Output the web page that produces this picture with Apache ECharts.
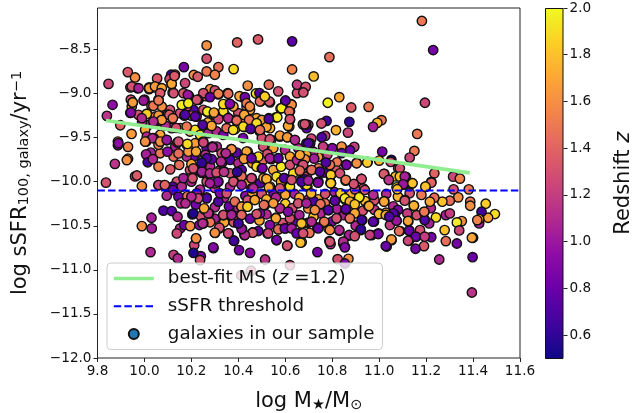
<!DOCTYPE html>
<html><head><meta charset="utf-8">
<style>html,body{margin:0;padding:0;background:#fff}#c{width:632px;height:413px}</style>
<script src="https://cdn.jsdelivr.net/npm/echarts@6/dist/echarts.min.js"></script>
</head><body><div id="c"></div>
<script>
const xTicks=[9.8,10.0,10.2,10.4,10.6,10.8,11.0,11.2,11.4,11.6];
const yTicks=[-12,-11.5,-11,-10.5,-10,-9.5,-9,-8.5];
const zTicks=[0.6,0.8,1.0,1.2,1.4,1.6,1.8,2.0];
const plasma=['#0d0887','#41049d','#6a00a8','#8f0da4','#b12a90','#cc4778','#e16462','#f2844b','#fca636','#fcce25','#f0f921'];
const msLine=[[9.836,-9.306],[11.386,-9.90]];
const threshold=[[9.8,-10.1],[11.6,-10.1]];
// [log stellar mass, log sSFR, redshift]
const galaxiesFill=[
[9.942,-9.07,1.3],[9.946,-9.147,1.6],[9.975,-9.242,1.3],[10.017,-9.356,1.25],[10.046,-9.261,1.5],[10.067,-9.356,1.7],[10.088,-9.242,1.3],[10.116,-9.393,1.25],[10.152,-9.393,1.7],[10.194,-9.431,1.7],[10.216,-9.412,1.9],[10.237,-9.469,1.9],[10.272,-9.45,1.05],[10.308,-9.431,1.1],[10.336,-9.469,.85],[10.35,-9.393,1.45],[10.4,-9.356,1.7],[10.443,-9.375,1.3],[10.492,-9.431,1.7],[10.535,-9.393,1.75],[10.478,-9.28,1.7],[10.435,-9.147,1.5],[10.45,-9.185,1.7],[10.4,-9.223,1.3],[10.379,-9.147,1.7],[10.343,-9.242,1.9],[10.294,-9.242,1.7],[10.251,-9.185,1.3],[10.209,-9.185,.7],[10.152,-9.223,1.3],[10.109,-9.185,1.3],[10.074,-9.147,1.6],[10.003,-9.412,1.7],[10.01,-9.488,1.1],[10.067,-9.469,1.7],[10.216,-9.564,1.65],[10.223,-9.678,1.8],[10.209,-9.715,.8],[10.18,-9.715,1.1],[10.124,-9.715,1.45],[10.131,-9.602,1.05],[10.067,-9.678,1.5],[10.308,-9.602,1.1],[10.265,-9.621,.75],[10.329,-9.678,1.3],[10.365,-9.753,.7],[10.4,-9.791,1.1],[10.506,-9.602,1.3],[10.549,-9.621,1.7],[10.599,-9.64,1.1],[10.62,-9.715,1.7],[10.677,-9.867,1.1],[10.634,-9.905,1.9],[10.549,-9.867,1.7],[10.506,-9.753,1.45],[10.485,-9.715,1.9],[10.322,-9.867,1.3],[10.28,-9.829,1.1],[10.223,-9.867,.7],[10.194,-9.867,1.3],[10.414,-9.867,.75],[10.435,-10.018,1.7],[10.492,-10.018,.7],[10.563,-9.943,1.9],[10.606,-10.037,1.1],[10.691,-9.943,1.3],[10.365,-10.056,1.1],[10.265,-9.999,1.3],[10.138,-9.999,1.3],[10.159,-10.056,1.1],
[10.3,-10.07,1.3],[10.34,-10.18,1.1],[10.43,-10.16,.9],[10.46,-10.13,1.7],[10.5,-10.14,1.3],[10.55,-10.14,.9],[10.6,-10.15,1.7],[10.64,-10.14,1.05],[10.66,-10.18,1.7],[10.56,-10.18,1.1],[10.44,-10.21,1.3],[10.4,-10.3,1.1],[10.36,-10.28,.8],[10.3,-10.29,1.1],[10.24,-10.39,1.3],[10.3,-10.42,1.05],[10.34,-10.46,1.7],[10.38,-10.46,1.3],[10.45,-10.42,.8],[10.49,-10.44,1.7],[10.52,-10.37,1.1],[10.6,-10.25,1.85],[10.63,-10.3,1.3],[10.52,-10.2,1.75],[10.59,-10.47,1.3],[10.64,-10.45,.8],[10.7,-10.2,1.1],[10.74,-10.2,1.7],[10.77,-10.14,1.3],[10.81,-10.12,1.05],[10.88,-10.14,1.7],[10.98,-10.21,1.3],[11.03,-10.14,1.1],[11.08,-10.17,1.75],[11.13,-10.13,1.3],[11.18,-10.15,1.5],[11.06,-10.28,1.1],[10.98,-10.32,1.2],[10.93,-10.33,1.3],[10.82,-10.31,1.05],[10.75,-10.36,1.1],[10.72,-10.4,1.8],[10.85,-10.38,1.05],[10.94,-10.22,1.8],[11.08,-10.32,.85],[11.12,-10.36,1.2],[11.16,-10.38,1.3],[11.22,-10.3,1.1],[10.8,-10.45,.85],[10.9,-10.5,1.1],[10.72,-10.22,.7],[10.28,-10.46,1.5],[10.82,-9.78,1.5],[10.74,-9.72,1.65],[10.72,-9.66,1.1],[10.78,-9.69,1.2],[10.8,-9.62,.9]
];
const galaxies=[
[10.265,-8.454,1.6],[10.395,-8.42,1.4],[10.484,-8.386,1.35],[10.629,-8.408,.75],[10.265,-8.605,1.3],[10.168,-8.70,.85],[10.13,-8.785,1.6],[10.114,-8.787,.7],[9.929,-8.757,1.35],[9.96,-8.818,1.6],[9.847,-8.89,1.25],[10.265,-8.749,1.5],[10.315,-8.70,1.45],[10.38,-8.723,1.9],[10.629,-8.727,1.55],[10.21,-8.79,1.6],[10.227,-8.81,1.35],[10.3,-8.787,1.55],[10.054,-8.829,1.35],[10.107,-8.836,1.25],[10.116,-8.893,1.7],[10.173,-8.882,1.25],[9.864,-9.128,.95],[9.84,-9.253,1.15],[9.897,-9.36,1.4],[9.945,-9.458,1.65],[9.887,-9.545,1.6],[9.887,-9.587,.95],[9.93,-9.605,1.55],[9.93,-9.74,1.55],[9.925,-9.755,1.6],[9.874,-9.798,1.15],[9.836,-10.01,1.3],[9.96,-9.94,1.3],[9.968,-9.93,1.35],[9.989,-10.049,1.6],
[10.02,-8.93,1.65],[10.02,-8.95,1.7],[9.97,-8.94,1.1],[9.94,-8.93,1.3],[10.07,-8.94,1.45],[10.04,-8.93,1.7],[10.06,-9.07,1.45],[10.0,-9.07,1.05],[9.95,-9.1,1.6],[10.03,-9.14,1.55],[9.94,-9.22,.95],[10.01,-9.23,1.8],[10.06,-9.25,1.65],[10.07,-9.31,1.7],[9.99,-9.32,1.15],[10.04,-9.34,1.1],[10.12,-8.99,1.35],[10.19,-9.03,.9],[10.18,-9.15,1.25],[10.17,-9.25,.75],[10.12,-9.28,1.55],[10.1,-9.24,1.3],[10.23,-9.07,1.4],[10.26,-9.03,1.3],[10.28,-8.95,1.6],[10.315,-9.01,1.45],[10.3,-8.965,1.3],[10.355,-8.995,1.5],[10.42,-9.045,.7],[10.405,-9.03,1.7],[10.475,-9.0,1.9],[10.49,-8.995,.7],[10.51,-9.03,1.75],[10.53,-8.9,1.45],[10.57,-8.975,1.3],[10.44,-8.91,1.6],[10.495,-9.09,1.45],[10.535,-9.1,1.35],[10.6,-9.09,.8],[10.625,-9.12,1.6],[10.65,-8.995,1.3],[10.65,-8.9,1.2],[10.58,-9.17,1.9],[10.56,-9.27,1.9],[10.53,-9.28,.7],[10.5,-9.3,1.65],[10.62,-9.2,1.4],[10.617,-9.375,1.7],[10.62,-9.3,1.3],[10.675,-9.35,1.3],[10.698,-9.355,1.25],[10.166,-9.13,1.9],[10.27,-9.215,1.95],[10.336,-9.2,1.9],[10.36,-9.12,.8],[10.39,-9.3,1.4],[10.336,-9.12,1.9],[10.358,-9.28,1.05],[10.22,-9.26,1.1],[10.2,-9.25,1.3],[10.3,-9.24,1.65],[10.43,-9.29,1.45],[10.426,-9.38,1.9],[10.455,-9.4,.65],[10.478,-9.345,1.85],[10.52,-9.38,1.7],[10.386,-9.405,1.8],[10.25,-9.36,.7],[10.27,-9.33,1.7],[10.18,-9.375,1.5],[10.135,-9.39,1.3],[10.09,-9.365,1.1],[10.04,-9.505,1.1],[10.007,-9.545,1.6],[10.06,-9.58,1.5],[10.095,-9.53,1.05],[10.14,-9.556,1.2],[10.18,-9.58,1.9],[10.25,-9.545,1.1],[10.29,-9.6,1.05],[10.37,-9.63,1.25],[10.44,-9.66,1.7],[10.577,-9.49,1.6],[10.61,-9.495,1.65],[10.5,-9.505,1.3],[10.54,-9.525,1.3],[10.42,-9.505,.85],[10.69,-9.565,.7],[10.655,-9.62,1.1],[10.098,-9.66,.95],[10.027,-9.67,1.05],[10.007,-9.69,1.05],[10.014,-9.78,.65],[10.06,-9.83,1.55],[10.036,-9.745,1.1],[10.145,-9.68,1.45],[10.11,-9.86,1.35],[10.148,-9.81,1.45],[10.2,-9.8,1.7],[10.187,-9.66,1.65],[10.26,-9.696,1.15],[10.244,-9.8,.6],[10.287,-9.745,.75],[10.33,-9.79,1.05],[10.346,-9.677,1.05],[10.393,-9.67,.75],[10.426,-9.74,1.65],[10.45,-9.715,.7],[10.46,-9.79,1.6],[10.54,-9.745,.95],[10.57,-9.735,.75],[10.524,-9.685,1.3],[10.582,-9.83,1.95],[10.478,-9.83,1.9],[10.5,-9.85,.75],[10.67,-9.81,1.4],[10.62,-9.81,1.3],[10.69,-9.696,1.7],[10.65,-9.755,1.1],[10.195,-9.96,1.7],[10.244,-9.9,1.05],[10.275,-9.916,1.05],[10.305,-9.905,1.25],[10.34,-9.886,1.1],[10.397,-9.9,.6],[10.365,-9.905,1.3],[10.457,-9.96,1.3],[10.507,-9.96,1.7],[10.52,-9.97,1.75],[10.595,-9.96,.6],[10.582,-10.0,1.7],[10.684,-10.04,1.85],[10.315,-10.0,.95],[10.166,-9.96,1.05],[10.2,-10.0,1.1],[10.12,-10.055,.7],[10.06,-10.04,1.2],[10.084,-10.04,1.4],[10.237,-10.09,1.1],[10.457,-10.075,1.1],[10.535,-10.055,1.8],[10.67,-9.98,.7],[10.62,-10.055,1.9],[10.379,-10.0,1.3],[10.3,-10.02,1.05],[10.414,-9.94,1.45],
[11.182,-8.177,1.5],[11.23,-8.507,.85],[10.788,-8.587,1.45],[10.721,-8.806,1.78],[10.687,-8.924,1.3],[10.677,-8.988,1.3],[10.781,-9.105,1.97],[10.83,-9.041,1.7],[10.881,-9.158,1.35],[10.955,-9.151,1.5],[11.195,-9.105,1.25],[11.01,-9.302,1.5],[10.992,-9.333,1.75],[10.974,-9.378,1.05],[10.873,-9.321,.6],[10.816,-9.416,1.75],[10.867,-9.443,1.25],[10.776,-9.31,.65],[10.754,-9.34,1.3],[10.691,-9.393,.75],[10.689,-9.352,1.2],[11.162,-9.458,1.5],[11.15,-9.651,1.5],[11.13,-9.727,1.25],[11.013,-9.659,.85],[11.052,-9.753,.55],[11.049,-9.776,1.3],[11.0,-9.761,1.75],[10.951,-9.776,1.8],[10.904,-9.787,1.65],[10.894,-9.605,1.2],[10.84,-9.602,1.6],[10.876,-9.643,.8],[10.84,-9.677,.8],[10.859,-9.806,.75],[10.77,-9.48,1.2],[10.755,-9.496,.7],[10.711,-9.511,1.25],[10.706,-9.568,.65],[10.761,-9.602,1.2],[10.819,-9.874,1.35],[10.793,-9.931,1.85],[10.795,-10.018,1.85],[10.857,-9.988,1.5],[10.924,-9.969,1.3],[11.022,-9.912,1.35],[11.042,-9.98,1.15],[11.081,-9.848,1.35],[11.114,-9.946,1.05],[11.07,-9.94,1.8],[11.141,-10.018,1.8],[11.104,-10.026,1.0],[11.235,-9.905,1.4],[11.222,-10.003,1.4],[11.199,-10.056,1.8],[11.315,-9.943,1.25],[11.344,-9.965,1.55],[11.382,-10.087,1.5],[11.317,-10.087,1.3],[10.723,-9.738,1.05],[10.684,-9.746,1.6],[10.71,-9.87,1.5],[10.741,-9.848,1.5],[10.762,-9.897,.8],[10.79,-9.81,1.5],[10.674,-9.81,1.15],[10.684,-9.973,.65],[10.738,-10.007,.9],[10.694,-10.056,1.9],
[11.493,-10.367,1.9],[11.464,-10.409,1.7],[11.454,-10.25,1.85],[11.436,-10.341,.65],[11.426,-10.473,1.05],[11.426,-10.424,1.8],[11.418,-10.436,1.55],[11.388,-10.227,1.5],[11.388,-10.273,1.6],[11.337,-10.178,1.6],[11.301,-10.216,1.45],[11.269,-10.227,1.8],[11.235,-10.182,1.45],[11.216,-10.227,1.7],[11.242,-10.405,1.9],[11.284,-10.379,1.05],[11.301,-10.36,1.2],[11.352,-10.447,1.6],[11.331,-10.462,1.95],[11.279,-10.549,1.8],[11.341,-10.553,1.25],[11.4,-10.636,.6],[11.395,-10.636,1.7],[11.284,-10.674,1.45],[11.331,-10.701,.85],[11.398,-10.856,.8],[11.256,-10.883,1.1],[11.395,-11.257,1.15],[11.222,-10.629,.85],[11.191,-10.731,1.35],[11.155,-10.761,.85],[11.157,-10.625,.8],[11.127,-10.67,1.2],[11.032,-10.735,.8],[11.053,-10.663,1.65],[11.089,-10.56,1.5],[11.128,-10.553,.85],[11.124,-10.451,1.65],[11.192,-10.348,1.5],[11.195,-10.436,.7],[11.074,-10.443,1.05],[10.996,-10.587,.8],[10.968,-10.606,1.2],[10.921,-10.549,.6],[10.978,-10.454,.75],[10.928,-10.436,.8],[10.876,-10.417,1.5],[10.854,-10.739,.9],[10.871,-10.613,1.05],[10.847,-10.701,1.3],[10.788,-10.674,1.1],[10.793,-10.708,1.1],[10.737,-10.799,.85],[10.869,-10.875,1.6],[10.823,-10.879,1.3],[10.854,-10.928,.9],[10.83,-10.557,1.1],[10.703,-10.58,1.5],[10.698,-10.466,.7],[10.67,-10.686,1.8],
[11.213,-10.473,1.05],[11.174,-10.549,1.3],[11.067,-10.379,.75],[11.046,-10.492,1.2],[10.784,-10.53,1.6],[10.765,-10.462,1.5],[10.737,-10.519,.75],[10.819,-10.417,1.3],[10.784,-10.322,.7],[10.857,-10.314,.75],[10.769,-10.246,1.5],[10.812,-10.216,.8],[10.836,-10.133,1.8],[10.854,-10.2,1.95],[10.915,-10.178,1.95],[10.89,-10.246,1.75],[10.954,-10.276,1.5],[11.022,-10.22,1.7],[11.0,-10.36,1.8],[11.029,-10.352,1.7],[11.06,-10.36,.75],[11.11,-10.208,1.3],[11.148,-10.273,1.75],[11.074,-10.064,1.9],[11.106,-10.034,1.0],[11.138,-10.019,1.8],[11.199,-10.057,1.8],[11.222,-10.011,1.4],[10.932,-10.076,1.3],[10.897,-10.087,1.3],[10.71,-10.133,1.75],[10.691,-10.038,1.9],[10.793,-10.011,1.85],[10.741,-10.0,.75],
[10.06,-10.038,1.25],[10.087,-10.038,1.4],[10.121,-10.095,.8],[10.095,-10.159,1.1],[10.145,-10.17,.8],[10.183,-10.163,1.45],[10.223,-10.133,1.0],[10.265,-10.178,1.45],[10.155,-10.246,1.1],[10.175,-10.246,1.1],[10.219,-10.261,.85],[10.255,-10.314,1.75],[10.081,-10.329,.7],[10.116,-10.333,.75],[10.141,-10.398,1.1],[10.204,-10.371,.6],[10.03,-10.409,1.05],[9.989,-10.504,1.6],[10.031,-10.53,1.05],[10.152,-10.53,1.1],[10.138,-10.587,1.25],[10.169,-10.492,.8],[10.195,-10.504,1.6],[10.234,-10.492,.9],[10.251,-10.473,1.25],[10.275,-10.36,1.15],[10.319,-10.53,1.3],[10.301,-10.58,1.65],[10.22,-10.644,1.6],[10.212,-10.72,1.25],[10.24,-10.845,.85],[10.209,-10.807,.55],[10.237,-10.89,1.3],[10.294,-10.754,.85],[10.382,-10.67,.65],[10.403,-10.776,.85],[10.45,-10.807,.95],[10.514,-10.883,1.15],[10.454,-11.01,1.25],[10.412,-11.064,1.3],[10.62,-10.947,1.25],[10.609,-10.727,1.25],[10.563,-10.663,.85],[10.525,-10.587,1.25],[10.6,-10.53,.8],[10.57,-10.538,1.4],[10.665,-10.576,1.3],[10.485,-10.56,.75],[10.461,-10.576,1.4],[10.426,-10.606,1.1],[10.358,-10.587,1.25],[10.4,-10.473,.65],[10.416,-10.538,1.1],[10.026,-10.799,1.1],[10.124,-10.83,1.2],[10.142,-10.871,1.1],[10.336,-10.379,1.4],[10.365,-10.379,1.05],[10.397,-10.39,1.3],[10.412,-10.379,1.4],[10.414,-10.284,1.7],[10.438,-10.284,1.9],[10.492,-10.36,.9],[10.514,-10.265,1.5],[10.56,-10.409,1.8],[10.577,-10.303,1.1],[10.62,-10.417,1.3],[10.66,-10.379,1.05],[10.698,-10.303,1.6],[10.677,-10.473,1.85]
];
const galaxiesCore=[
[10.245,-9.79,.65],[10.208,-9.85,1.3],[10.245,-9.886,1.05],[10.279,-9.905,1.1],[10.307,-9.897,1.3],[10.339,-9.889,1.15],[10.395,-9.889,.6],[10.205,-9.961,1.3],[10.313,-10.0,.9],[10.279,-10.018,1.05],[10.456,-9.961,1.25],[10.503,-9.848,.85],[10.52,-9.969,1.75],[10.464,-10.075,1.1],[10.414,-10.037,1.05],[10.53,-10.064,1.7],[10.595,-9.961,.7],[10.627,-9.98,1.3],[10.676,-9.81,1.3],[10.662,-9.874,1.45],[10.669,-10.0,.7],[10.698,-9.988,1.05],[10.577,-10.075,1.3],[10.265,-10.189,.7],[10.229,-10.189,1.25],[10.272,-10.359,1.15],[10.315,-10.226,.7],[10.322,-10.132,.9],[10.35,-10.132,1.3],[10.385,-10.226,1.45],[10.414,-10.283,1.65],[10.439,-10.283,1.85],[10.509,-10.264,1.45],[10.47,-10.208,1.7],[10.414,-10.378,1.4],[10.336,-10.378,1.3],[10.371,-10.378,1.05],[10.478,-10.367,1.3],[10.577,-10.302,1.1],[10.549,-10.245,1.65],[10.612,-10.34,.9],[10.655,-10.245,1.3],[10.69,-10.245,1.05],[10.56,-10.416,1.7],[10.534,-10.492,.9],[10.57,-10.541,1.45],[10.527,-10.586,1.25],[10.598,-10.53,.8],[10.627,-10.53,1.05],[10.669,-10.473,1.8],[10.665,-10.692,1.8],[10.608,-10.726,1.3],[10.563,-10.662,.85],[10.461,-10.579,1.35],[10.428,-10.605,1.1],[10.414,-10.537,1.0],[10.4,-10.473,.65],[10.319,-10.522,1.3],[10.3,-10.579,1.6],[10.357,-10.586,1.25],[10.381,-10.67,.65],[10.293,-10.745,.9],[10.248,-10.473,1.1],[10.208,-10.359,.55],[10.254,-10.302,1.7],[10.2,-10.17,1.1],[10.22,-10.643,1.6],[10.648,-10.586,.8],[10.676,-10.586,1.3],
[10.773,-9.783,.7],[10.861,-9.81,.85],[10.904,-9.791,1.6],[10.949,-9.783,1.85],[11.088,-9.848,1.3],[10.712,-9.867,1.45],[10.748,-9.886,.7],[10.794,-9.923,1.85],[10.833,-9.905,1.3],[10.794,-10.018,1.85],[10.858,-9.98,1.5],[10.925,-9.969,1.3],[10.892,-10.026,1.3],[11.02,-9.912,1.35],[11.041,-9.98,1.15],[11.088,-9.942,1.8],[11.109,-9.942,1.05],[11.102,-10.03,1.0],[11.142,-10.018,1.8],[11.077,-10.086,1.8],[11.197,-10.056,1.8],[10.74,-10.011,.9],[10.835,-10.132,1.85],[10.854,-10.189,1.95],[10.915,-10.177,1.95],[10.875,-10.226,1.7],[10.896,-10.257,1.8],[10.811,-10.215,.75],[10.783,-10.321,.7],[10.75,-10.253,1.45],[10.726,-10.321,1.6],[10.858,-10.31,.75],[10.896,-10.359,1.7],[10.957,-10.276,1.7],[10.975,-10.15,1.1],[10.939,-10.094,1.3],[11.021,-10.226,1.7],[11.109,-10.215,1.3],[11.148,-10.272,1.75],[10.999,-10.367,1.8],[11.028,-10.378,1.7],[10.925,-10.435,.65],[10.875,-10.416,1.5],[10.818,-10.416,1.3],[10.766,-10.454,1.5],[10.712,-10.454,1.1],[10.974,-10.454,.75],[11.074,-10.442,1.0],[11.123,-10.446,1.7],[11.194,-10.435,.7],[11.192,-10.34,1.5],[11.043,-10.397,.7],[10.83,-10.548,1.1],[10.79,-10.548,1.6],[10.74,-10.53,.8],[10.922,-10.541,.6],[10.996,-10.594,.85],[10.96,-10.605,1.2],[10.872,-10.605,1.05],[10.896,-10.617,1.3],[11.128,-10.556,.8],[11.085,-10.56,1.45],[11.156,-10.624,.8],[11.194,-10.624,1.2],[11.123,-10.67,1.25],[11.052,-10.655,1.65],[11.028,-10.73,.8],[10.79,-10.68,1.3],[10.847,-10.68,1.1],[10.854,-10.745,.9],
[10.251,-8.996,1.3],[10.229,-9.072,1.35],[10.279,-9.041,.8],[10.315,-9.003,1.55],[10.357,-9.003,1.45],[10.364,-9.117,.9],[10.357,-9.28,1.1],[10.428,-9.041,.85],[10.435,-9.11,1.5],[10.449,-9.147,1.6],[10.492,-9.09,1.45],[10.532,-9.09,1.35],[10.513,-9.034,1.85],[10.584,-9.166,1.95],[10.566,-9.269,1.95],[10.53,-9.288,.7],[10.627,-9.128,1.6],[10.617,-9.204,1.45],[10.601,-9.079,.75],[10.612,-9.367,1.7],[10.62,-9.291,1.3],[10.683,-9.348,1.3],[10.425,-9.242,1.7],[10.446,-9.299,1.5],[10.393,-9.306,1.45],[10.478,-9.337,1.9],[10.492,-9.413,1.45],[10.421,-9.375,1.9],[10.452,-9.401,.7],[10.378,-9.413,1.9],[10.315,-9.291,1.25],[10.286,-9.367,1.7],[10.248,-9.356,.7],[10.222,-9.261,1.25],[10.268,-9.204,1.95],[10.296,-9.216,1.7],[10.577,-9.477,1.65],[10.608,-9.496,1.65],[10.534,-9.519,1.3],[10.435,-9.659,1.7],[10.371,-9.632,1.6],[10.424,-9.742,1.65],[10.456,-9.734,.8],[10.534,-9.734,1.05],[10.57,-9.734,.75],[10.662,-9.697,1.7],[10.698,-9.564,.7],[10.251,-9.556,1.25],[10.29,-9.61,1.1],[10.22,-9.659,1.7],[10.265,-9.734,.7],[10.347,-9.678,1.1],[10.326,-9.772,1.1],[10.244,-9.784,.6],[10.641,-9.526,1.1],
[9.946,-8.92,1.3],[9.975,-8.939,1.05],[10.021,-8.939,1.65],[10.045,-8.92,1.65],[10.074,-8.939,1.7],[10.116,-8.89,1.7],[10.128,-8.8,1.35],[10.124,-8.996,1.3],[10.166,-8.996,1.35],[10.185,-9.015,1.0],[10.067,-8.996,1.35],[9.996,-9.08,1.0],[9.95,-9.102,1.65],[9.942,-9.216,.9],[10.038,-9.14,1.5],[10.01,-9.231,1.85],[10.06,-9.079,1.5],[10.074,-9.299,1.65],[10.106,-9.242,1.35],[10.121,-9.28,1.5],[10.173,-9.242,.7],[10.159,-9.129,1.95],[10.187,-9.11,1.95],[10.216,-9.261,.75],[10.223,-9.072,1.3],[10.034,-9.507,1.1],[10.067,-9.545,1.6],[10.003,-9.545,1.6],[10.095,-9.526,1.0],[10.145,-9.545,1.3],[10.183,-9.572,1.9],[9.889,-9.564,.95],[9.989,-9.28,1.1],[10.038,-9.318,1.1]
];
const fs='"DejaVu Sans"';
const chart=echarts.init(document.getElementById('c'),null,{renderer:'canvas'});
const noEmph={disabled:true};
const hiddenDot={opacity:0};
chart.setOption({
 animation:false,
 grid:[{left:97.5,right:112,top:8,bottom:55,show:true,borderColor:'#222',borderWidth:1,containLabel:false,outerBoundsMode:'none'},
       {left:545,right:68.5,top:8,bottom:54.5,outerBoundsMode:'none'}],
 xAxis:[{type:'value',gridIndex:0,min:9.8,max:11.6,interval:0.2,splitLine:{show:false},
   axisLine:{show:false,onZero:false},axisTick:{show:true,length:4,lineStyle:{color:'#222'}},
   axisLabel:{color:'#111',fontFamily:fs,fontSize:13.6,margin:6,hideOverlap:false,showMinLabel:true,showMaxLabel:true,formatter:v=>v.toFixed(1),customValues:xTicks},
   name:'{a|log M}{s|★}{a|/M}{s|⊙}',nameLocation:'middle',nameGap:33,
   nameTextStyle:{rich:{a:{fontFamily:fs,fontSize:21,color:'#111'},s:{fontFamily:fs,fontSize:14.5,color:'#111',verticalAlign:'bottom',padding:[7,0,0,0]}}}},
  {type:'category',gridIndex:1,data:[''],axisLine:{show:false},axisTick:{show:false},axisLabel:{show:false}}],
 yAxis:[{type:'value',gridIndex:0,min:-12,max:-8.03,splitLine:{show:false},
   axisLine:{show:false,onZero:false},axisTick:{show:true,length:4,lineStyle:{color:'#222'},customValues:yTicks},
   axisLabel:{color:'#111',fontFamily:fs,fontSize:13.6,margin:6,formatter:v=>(+v).toFixed(1).replace('-','\u2212'),customValues:yTicks},
   name:'{a|log sSFR}{s|100, galaxy}{a|/yr}{t|\u22121}',nameLocation:'middle',nameRotate:90,nameGap:66,
   nameTextStyle:{rich:{a:{fontFamily:fs,fontSize:21,color:'#111'},s:{fontFamily:fs,fontSize:14.5,color:'#111',verticalAlign:'bottom',padding:[7,0,0,0]},t:{fontFamily:fs,fontSize:14.5,color:'#111',verticalAlign:'top',padding:[0,0,7,0]}}}},
  {type:'value',gridIndex:1,position:'right',min:0.5,max:2.0,splitLine:{show:false},axisLine:{show:false},
   axisTick:{show:true,length:4,lineStyle:{color:'#222'},customValues:zTicks},
   axisLabel:{color:'#111',fontFamily:fs,fontSize:13.6,margin:6,formatter:v=>(+v).toFixed(1),customValues:zTicks},
   name:'Redshift {i|z}',nameLocation:'middle',nameRotate:90,nameGap:50,
   nameTextStyle:{fontFamily:fs,fontSize:21,color:'#111',rich:{i:{fontFamily:fs,fontSize:21,fontStyle:'italic',color:'#111'}}}}],
 legend:{show:true,orient:'vertical',left:107,top:263,padding:[5,8,5,5],itemGap:6.8,itemWidth:40,itemHeight:10,
   backgroundColor:'rgba(255,255,255,0.8)',borderColor:'#ccc',borderWidth:1,borderRadius:4,selectedMode:false,
   data:[{name:'best-fit MS (z =1.2)',itemStyle:hiddenDot,lineStyle:{width:3.6}},{name:'sSFR threshold',itemStyle:hiddenDot,lineStyle:{width:2,type:[7.4,3.2]}},{name:'galaxies in our sample'}],
   formatter:n=>n.replace('z =','{i|z} ='),
   textStyle:{fontFamily:fs,fontSize:18.3,lineHeight:21,color:'#111',padding:[0,0,0,9],rich:{i:{fontFamily:fs,fontSize:18.3,fontStyle:'italic',color:'#111',padding:[0,0,0,0]}}}},
 visualMap:[{show:false,seriesIndex:0,dimension:2,min:0.5,max:2.0,inRange:{color:plasma}}],
 series:[
  {name:'galaxies in our sample',type:'scatter',xAxisIndex:0,yAxisIndex:0,data:galaxiesFill.concat(galaxies,galaxiesCore),symbol:'circle',symbolSize:9.4,
   itemStyle:{color:'#1f77b4',borderColor:'#111',borderWidth:1.4,opacity:1},emphasis:noEmph,z:2},
  {name:'best-fit MS (z =1.2)',type:'line',xAxisIndex:0,yAxisIndex:0,data:msLine,showSymbol:false,symbol:'none',
   lineStyle:{color:'#90ee90',width:3.6},itemStyle:{color:'#90ee90'},emphasis:noEmph,z:3},
  {name:'sSFR threshold',type:'line',xAxisIndex:0,yAxisIndex:0,data:threshold,showSymbol:false,symbol:'none',
   lineStyle:{color:'#0000ff',width:2,type:[7.4,3.2]},itemStyle:{color:'#0000ff'},emphasis:noEmph,z:3},
  {type:'bar',xAxisIndex:1,yAxisIndex:1,data:[2.0],barWidth:'100%',silent:true,
   itemStyle:{borderColor:'#111',borderWidth:1,color:new echarts.graphic.LinearGradient(0,0,0,1,plasma.slice().reverse().map((c,i)=>({offset:i/10,color:c})))}}
 ]
});
</script></body></html>
